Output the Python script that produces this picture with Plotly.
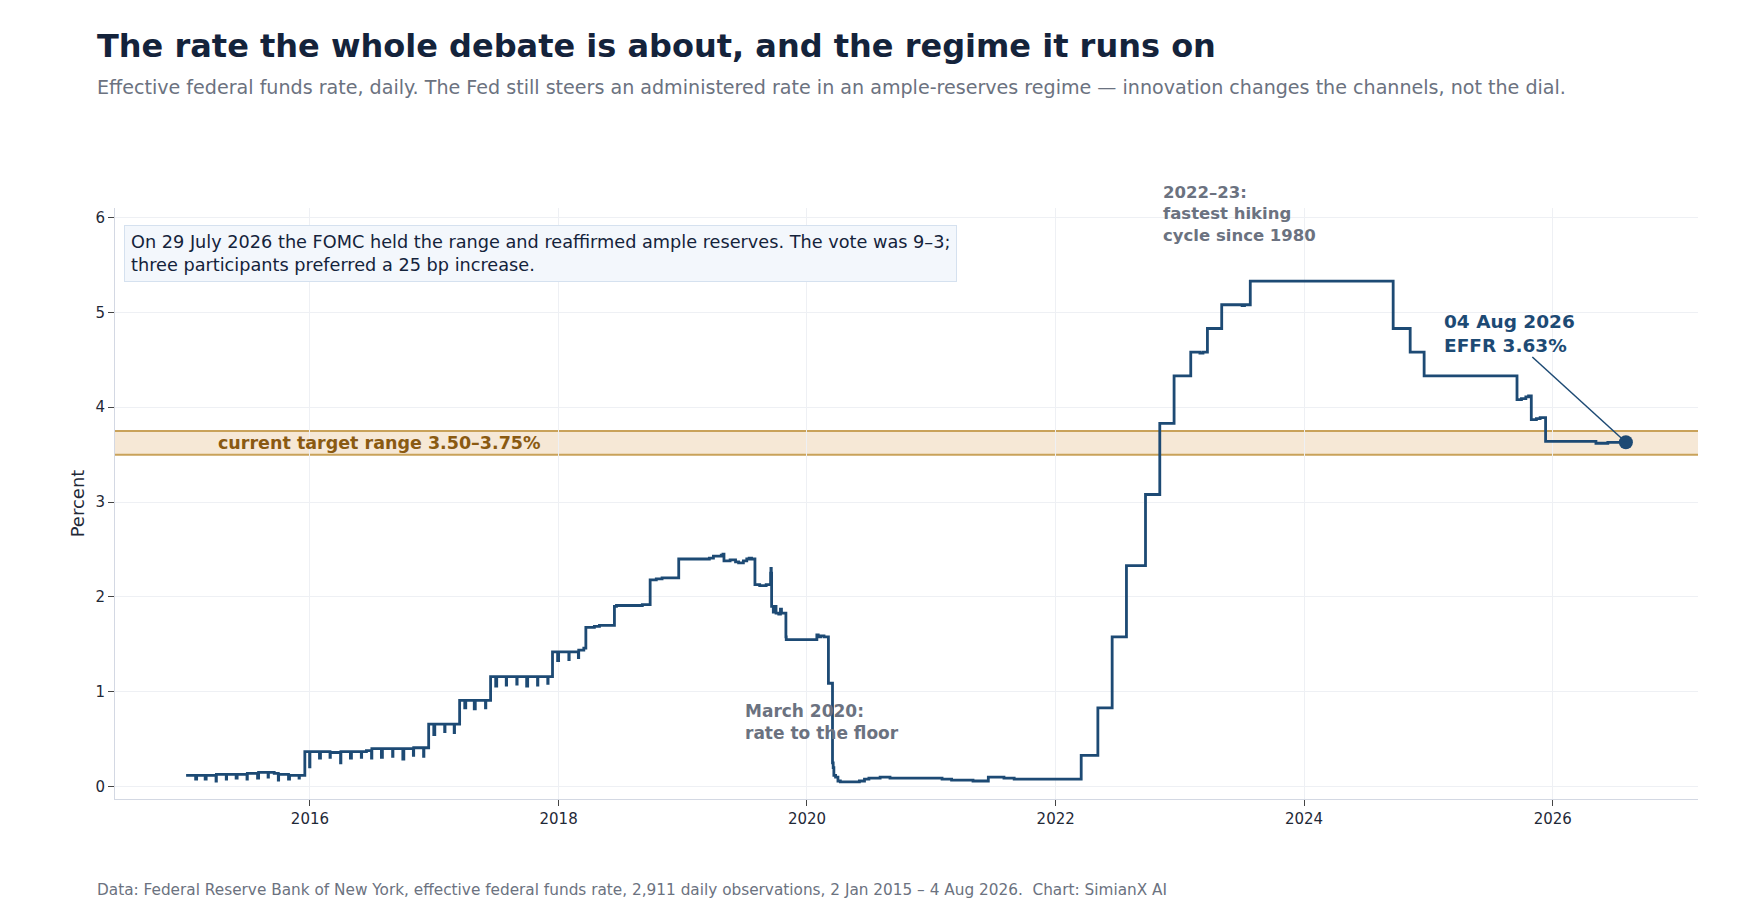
import pandas as pd
import plotly.graph_objects as go

# effective fed funds rate (date the level starts)
level_dates = [
    "2015-01-02", "2015-04-01", "2015-07-01", "2015-08-03", "2015-09-18", "2015-10-01", "2015-11-02",
    "2015-12-17", "2016-03-01", "2016-04-01", "2016-06-15", "2016-07-01", "2016-11-01",
    "2016-12-15", "2017-03-16", "2017-06-15", "2017-12-14", "2018-03-01", "2018-03-16",
    "2018-03-22", "2018-04-16", "2018-05-01", "2018-06-14", "2018-06-20", "2018-09-04",
    "2018-09-27", "2018-10-15", "2018-11-01", "2018-12-20", "2019-03-20", "2019-04-01",
    "2019-04-24", "2019-04-29", "2019-05-02", "2019-05-20", "2019-06-05", "2019-06-14",
    "2019-06-28", "2019-07-08", "2019-07-15", "2019-07-22", "2019-08-01", "2019-08-15",
    "2019-09-03", "2019-09-16", "2019-09-17", "2019-09-18", "2019-09-19", "2019-09-24",
    "2019-09-30", "2019-10-02", "2019-10-10", "2019-10-15", "2019-10-18", "2019-10-31",
    "2019-11-01", "2020-01-30", "2020-02-03", "2020-02-10", "2020-02-20", "2020-03-04",
    "2020-03-16", "2020-03-18", "2020-03-20", "2020-03-25", "2020-04-01", "2020-04-08",
    "2020-06-03", "2020-06-18", "2020-07-01", "2020-08-03", "2020-09-01", "2021-02-01",
    "2021-03-01", "2021-05-03", "2021-06-17", "2021-08-02", "2021-09-01",
    "2022-03-17", "2022-05-05", "2022-06-16", "2022-07-28", "2022-09-22", "2022-11-03",
    "2022-12-15", "2023-02-02", "2023-03-01", "2023-03-10", "2023-03-23", "2023-05-04",
    "2023-07-03", "2023-07-10", "2023-07-27", "2024-09-19", "2024-11-08", "2024-12-19",
    "2025-09-18", "2025-10-01", "2025-10-14", "2025-10-22", "2025-10-30", "2025-11-14",
    "2025-11-25", "2025-12-11", "2026-05-08", "2026-06-12", "2026-08-04",
]
level_values = [
    0.12, 0.13, 0.14, 0.15, 0.14, 0.13, 0.12,
    0.37, 0.36, 0.37, 0.38, 0.40, 0.41,
    0.66, 0.91, 1.16, 1.42, 1.44, 1.46,
    1.68, 1.69, 1.70, 1.90, 1.91, 1.92,
    2.18, 2.19, 2.20, 2.40, 2.41, 2.43,
    2.44, 2.45, 2.38, 2.39, 2.37, 2.36,
    2.38, 2.40, 2.41, 2.40, 2.13, 2.12,
    2.13, 2.25, 2.30, 2.25, 1.90, 1.84,
    1.90, 1.83, 1.82, 1.87, 1.83, 1.58,
    1.55, 1.60, 1.58, 1.59, 1.58, 1.09,
    0.25, 0.20, 0.12, 0.10, 0.06, 0.05,
    0.06, 0.08, 0.09, 0.10, 0.09, 0.08,
    0.07, 0.06, 0.10, 0.09, 0.08,
    0.33, 0.83, 1.58, 2.33, 3.08, 3.83,
    4.33, 4.58, 4.57, 4.58, 4.83, 5.08,
    5.07, 5.08, 5.33, 4.83, 4.58, 4.33,
    4.08, 4.09, 4.11, 4.12, 3.87, 3.88,
    3.89, 3.64, 3.62, 3.63, 3.63,
]

# one-day month/quarter-end dips
dip_dates = [
    "2015-01-30", "2015-02-27", "2015-03-31", "2015-04-30", "2015-05-29", "2015-06-30",
    "2015-07-31", "2015-08-31", "2015-09-30", "2015-10-30", "2015-11-30", "2015-12-31",
    "2016-01-29", "2016-02-29", "2016-03-31", "2016-04-29", "2016-05-31", "2016-06-30",
    "2016-07-29", "2016-08-31", "2016-09-30", "2016-10-31", "2016-11-30", "2016-12-30",
    "2017-01-31", "2017-02-28", "2017-03-31", "2017-04-28", "2017-05-31", "2017-06-30",
    "2017-07-31", "2017-08-31", "2017-09-29", "2017-10-31", "2017-11-30", "2017-12-29",
    "2018-01-31", "2018-02-28",
]
dip_values = [
    0.08, 0.08, 0.06, 0.08, 0.09, 0.08,
    0.09, 0.10, 0.07, 0.08, 0.09, 0.21,
    0.30, 0.31, 0.25, 0.30, 0.31, 0.30,
    0.31, 0.32, 0.29, 0.33, 0.32, 0.55,
    0.58, 0.57, 0.83, 0.82, 0.83, 1.06,
    1.07, 1.08, 1.06, 1.07, 1.09, 1.33,
    1.34, 1.36,
]

band_low, band_high = 3.50, 3.75

levels = pd.Series(level_values, index=pd.to_datetime(level_dates))
pts = dict(levels)
for d, v in zip(dip_dates, dip_values):
    d = pd.Timestamp(d)
    back = d + pd.offsets.BDay(1)
    if back not in pts:
        pts[back] = levels[:back].iloc[-1]
    pts[d] = v
effr = pd.Series(pts).sort_index()

navy = "#1d4a74"
gray = "#6b7280"
ink = "#1f2937"
font = "DejaVu Sans"

fig = go.Figure()

fig.add_hrect(y0=band_low, y1=band_high, fillcolor="#f6e8d6", line_width=0, layer="below")
for yv in (band_low, band_high):
    fig.add_hline(y=yv, line_color="#c9a25a", line_width=2, layer="below")

fig.add_trace(go.Scatter(
    x=effr.index, y=effr.values, mode="lines", line_shape="hv",
    line=dict(color=navy, width=2.8), showlegend=False, hoverinfo="x+y",
))
fig.add_trace(go.Scatter(
    x=[effr.index[-1]], y=[effr.values[-1]], mode="markers",
    marker=dict(color=navy, size=14), showlegend=False,
))

# pointer from label to last obs
fig.add_shape(type="line", x0="2025-11-02", y0=4.53, x1=effr.index[-1], y1=effr.values[-1],
              line=dict(color=navy, width=1.5))

fig.add_annotation(x="2015-04-01", y=(band_low + band_high) / 2, xanchor="left", yanchor="middle",
                   text="<b>current target range 3.50–3.75%</b>", showarrow=False,
                   font=dict(size=17.5, color="#8a5a12"))
fig.add_annotation(x="2022-11-08", yref="paper", y=1.045, xanchor="left", yanchor="top", align="left",
                   text="<b>2022–23:<br>fastest hiking<br>cycle since 1980</b>", showarrow=False,
                   font=dict(size=16.5, color=gray))
fig.add_annotation(x="2019-06-28", y=0.92, xanchor="left", yanchor="top", align="left",
                   text="<b>March 2020:<br>rate to the floor</b>", showarrow=False,
                   font=dict(size=17, color=gray))
fig.add_annotation(x="2025-02-10", y=5.04, xanchor="left", yanchor="top", align="left",
                   text="<b>04 Aug 2026<br>EFFR 3.63%</b>", showarrow=False,
                   font=dict(size=18.5, color=navy))
fig.add_annotation(xref="paper", yref="paper", x=0.0057, y=0.971, xanchor="left", yanchor="top",
                   align="left", showarrow=False,
                   text="On 29 July 2026 the FOMC held the range and reaffirmed ample reserves. The vote was 9–3;<br>"
                        "three participants preferred a 25 bp increase.",
                   font=dict(size=17.7, color="#14233b"),
                   bgcolor="#f3f7fc", bordercolor="#d5e1ef", borderwidth=1, borderpad=6)

# subtitle and footer, placed relative to the plot area (1583 x 591 px)
fig.add_annotation(xref="paper", yref="paper", x=-20 / 1583, y=712 / 591,
                   xanchor="left", yanchor="middle", showarrow=False,
                   text="Effective federal funds rate, daily. The Fed still steers an administered rate in an "
                        "ample-reserves regime — innovation changes the channels, not the dial.",
                   font=dict(size=19.1, color=gray))
fig.add_annotation(xref="paper", yref="paper", x=-20 / 1583, y=-91 / 591,
                   xanchor="left", yanchor="middle", showarrow=False,
                   text="Data: Federal Reserve Bank of New York, effective federal funds rate, 2,911 daily "
                        "observations, 2 Jan 2015 – 4 Aug 2026.&nbsp; Chart: SimianX AI",
                   font=dict(size=15.3, color=gray))

fig.update_layout(
    width=1760, height=924,
    paper_bgcolor="white", plot_bgcolor="white",
    font=dict(family=font, size=15, color=ink),
    margin=dict(l=107, r=70, t=200, b=133),
    title=dict(text="<b>The rate the whole debate is about, and the regime it runs on</b>",
               xref="container", yref="container", x=89 / 1760, y=1 - 38 / 924,
               xanchor="left", yanchor="middle", font=dict(size=32, color="#14233b")),
    xaxis=dict(range=["2014-06-07", "2027-03-04"], tick0="2016-01-01", dtick="M24", tickformat="%Y",
               showgrid=True, gridcolor="#eef0f4", showline=True, linecolor="#d3d8e3",
               ticks="outside", ticklen=6, tickcolor="#444", tickfont=dict(size=15, color=ink)),
    yaxis=dict(range=[-0.13, 6.1], dtick=1, showgrid=True, gridcolor="#eef0f4",
               showline=True, linecolor="#d3d8e3", ticks="outside", ticklen=6, tickcolor="#444",
               zeroline=False, tickfont=dict(size=15, color=ink),
               title=dict(text="Percent", font=dict(size=18, color=ink), standoff=6)),
)

fig.write_html("out.html")
